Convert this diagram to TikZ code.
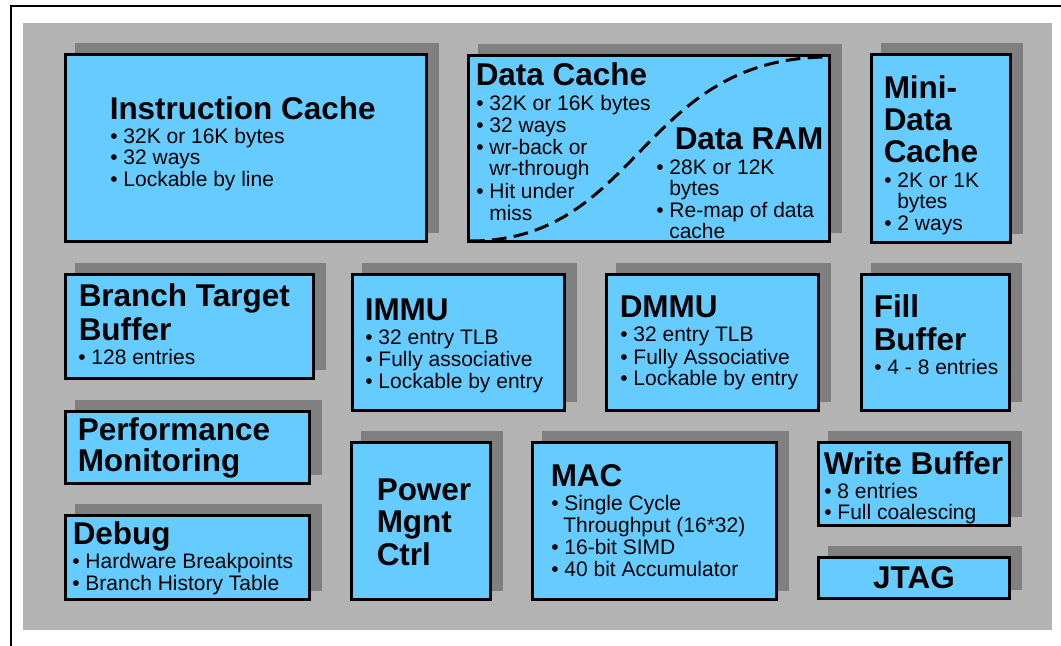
\documentclass[tikz,border=0pt]{standalone}
\usepackage{fontspec}
\setmainfont{Liberation Sans}
\usetikzlibrary{fit}
\definecolor{boxblue}{HTML}{66CCFF}
\definecolor{bggray}{HTML}{B3B3B3}
\definecolor{shgray}{HTML}{808080}
\newcounter{lnc}
\newcommand\Tl[3]{\stepcounter{lnc}\node[titletext] (t\arabic{lnc}) at (#1-1.5,#2) {#3};}
\newcommand\Bl[3]{\stepcounter{lnc}\node[bodytext] (t\arabic{lnc}) at (#1-1,#2) {#3};}
\newcommand\Blk[5]{%
  \fill[shgray] (#2+10.5,#3-10.5) rectangle (#4+10.5,#5-10.5);
  \node[blk, fit={(#2+1.5,#3+1.5) (#4-1.5,#5-1.5)}] (#1) {};}
\tikzset{
  blk/.style={draw=black, fill=boxblue, line width=2.25pt, inner sep=0pt, rectangle},
  titletext/.style={anchor=base west, inner sep=0pt, font=\fontsize{23.6pt}{28pt}\selectfont\bfseries},
  bodytext/.style={anchor=base west, inner sep=0pt, font=\fontsize{15.75pt}{19pt}\selectfont},
  sep/.style={line width=2.25pt, dash pattern=on 11pt off 5.5pt}
}
\begin{document}
\begin{tikzpicture}[x=0.75pt, y=-0.75pt]
\useasboundingbox (0,0) rectangle (1061,646);
\fill[white] (0,0) rectangle (1061,646);
\draw[line width=1.5pt] (11,646) -- (11,6) -- (1061,6);
\fill[bggray] (23,23) rectangle (1052,630);

% boxes
\Blk{ic}{64}{53}{428}{243}
\Blk{dc}{467}{54}{831}{243}
\Blk{mdc}{870}{53}{1012}{244}
\Blk{btb}{64}{273}{315}{380}
\Blk{immu}{351}{273}{566}{412}
\Blk{dmmu}{605}{273}{820}{412}
\Blk{fill}{860}{273}{1011}{412}
\Blk{perf}{64}{410}{311}{485}
\Blk{dbg}{64}{514}{311}{601}
\Blk{pwr}{350}{441}{492}{601}
\Blk{mac}{531}{441}{778}{601}
\Blk{wb}{817}{441}{1011}{527}
\Blk{jtag}{817}{556}{1011}{600}

% dashed separator in data cache
\draw[sep] (470,241) .. controls (640,241) and (640,57) .. (829,57);

% Instruction cache
\Tl{111}{119}{Instruction Cache}
\Bl{111}{143}{• 32K or 16K bytes}
\Bl{111}{164.5}{• 32 ways}
\Bl{111}{186.5}{• Lockable by line}

% Data cache
\Tl{477}{85}{Data Cache}
\Bl{477}{110.7}{• 32K or 16K bytes}
\Bl{477}{132}{• 32 ways}
\Bl{477}{154}{• wr-back or}
\Bl{490}{175.7}{wr-through}
\Bl{477}{198}{• Hit under}
\Bl{490}{220}{miss}

% Data RAM
\Tl{676}{149.3}{Data RAM}
\Bl{657}{174}{• 28K or 12K}
\Bl{670}{195.5}{bytes}
\Bl{657}{217}{• Re-map of data}
\Bl{670}{238.5}{cache}

% Mini data cache
\Tl{885}{98}{Mini-}
\Tl{885}{130.5}{Data}
\Tl{885}{162.5}{Cache}
\Bl{885}{187}{• 2K or 1K}
\Bl{898}{208}{bytes}
\Bl{885}{230}{• 2 ways}

% BTB
\Tl{80}{306.7}{Branch Target}
\Tl{80}{340}{Buffer}
\Bl{79}{364}{• 128 entries}

% IMMU
\Tl{366}{320.7}{IMMU}
\Bl{366}{344}{• 32 entry TLB}
\Bl{366}{366}{• Fully associative}
\Bl{366}{388}{• Lockable by entry}

% DMMU
\Tl{621}{317}{DMMU}
\Bl{621}{341.7}{• 32 entry TLB}
\Bl{621}{364}{• Fully Associative}
\Bl{621}{385.7}{• Lockable by entry}

% Fill buffer
\Tl{875}{317}{Fill}
\Tl{875}{350}{Buffer}
\Bl{875}{374}{• 4 - 8 entries}

% Performance monitoring
\Tl{79}{440}{Performance}
\Tl{79}{471.7}{Monitoring}

% Debug
\Tl{74}{544}{Debug}
\Bl{73}{568}{• Hardware Breakpoints}
\Bl{73}{590}{• Branch History Table}

% Power
\Tl{378}{500}{Power}
\Tl{378}{532}{Mgnt}
\Tl{378}{565}{Ctrl}

% MAC
\Tl{552}{486.7}{MAC}
\Bl{552}{510.7}{• Single Cycle}
\Bl{564}{532.7}{Throughput (16*32)}
\Bl{552}{554.3}{• 16-bit SIMD}
\Bl{552}{576}{• 40 bit Accumulator}

% Write buffer
\Tl{825}{474}{Write Buffer}
\Bl{825}{498.3}{• 8 entries}
\Bl{825}{519.3}{• Full coalescing}

% JTAG
\node[titletext, anchor=base] (jtagt) at (914,588.3) {JTAG};
\end{tikzpicture}
\end{document}
